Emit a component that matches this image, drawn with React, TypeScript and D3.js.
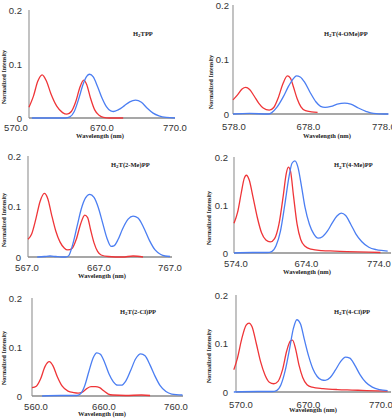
import * as d3 from 'd3';

type Pt = [number, number];

// panel names (the "2" after H is drawn as a subscript)
const TITLES = ['H2TPP', 'H2T(4-OMe)PP', 'H2T(2-Me)PP', 'H2T(4-Me)PP', 'H2T(2-Cl)PP', 'H2T(4-Cl)PP'];
const X_TICKS = [
  [570, 670, 770],
  [578, 678, 778],
  [567, 667, 767],
  [574, 674, 774],
  [560, 660, 760],
  [570, 670, 770],
];
const Y_TICKS = [0, 0.1, 0.2];
const Y_TICK_LABELS = ['0', '0.1', '0.2'];

// red = excitation, blue = emission (wavelength nm, normalized intensity)
const RED_TPP: Pt[] = [[570, 0.02], [576, 0.04], [582, 0.068], [588, 0.08], [594, 0.068], [600, 0.045], [608, 0.022], [616, 0.01], [622, 0.007], [628, 0.012], [634, 0.03], [640, 0.058], [645, 0.07], [649, 0.062], [654, 0.038], [660, 0.015], [666, 0.005], [672, 0.001], [680, 0], [699, 0]];
const BLUE_TPP: Pt[] = [[574, 0], [620, 0], [626, 0.002], [632, 0.012], [638, 0.035], [644, 0.062], [649, 0.077], [653, 0.081], [658, 0.076], [664, 0.058], [670, 0.037], [676, 0.021], [682, 0.013], [686, 0.012], [692, 0.015], [700, 0.022], [708, 0.03], [716, 0.033], [724, 0.029], [732, 0.018], [740, 0.009], [748, 0.004], [758, 0.001], [770, 0]];

const RED_4OME: Pt[] = [[578, 0.026], [584, 0.035], [590, 0.046], [595, 0.049], [600, 0.045], [606, 0.033], [612, 0.02], [618, 0.011], [626, 0.007], [632, 0.012], [638, 0.03], [644, 0.055], [650, 0.07], [654, 0.066], [658, 0.05], [663, 0.028], [668, 0.013], [674, 0.006], [682, 0.004], [690, 0.003]];
const BLUE_4OME: Pt[] = [[578, 0], [600, 0.001], [625, 0], [629, 0.002], [636, 0.012], [644, 0.03], [652, 0.052], [658, 0.065], [662, 0.07], [667, 0.068], [673, 0.058], [680, 0.04], [688, 0.022], [694, 0.014], [700, 0.012], [708, 0.014], [716, 0.018], [726, 0.02], [734, 0.018], [744, 0.011], [754, 0.005], [764, 0.001], [778, 0], [784, 0]];

const RED_2ME: Pt[] = [[567, 0.035], [572, 0.045], [578, 0.075], [584, 0.11], [590, 0.126], [595, 0.115], [600, 0.085], [606, 0.052], [612, 0.03], [618, 0.018], [623, 0.014], [629, 0.017], [635, 0.035], [641, 0.065], [647, 0.083], [651, 0.078], [655, 0.055], [660, 0.028], [665, 0.011], [670, 0.004], [680, 0.001], [700, 0], [715, 0.002], [729, 0]];
const BLUE_2ME: Pt[] = [[580, 0], [590, 0.001], [598, 0.002], [606, 0.001], [614, 0], [620, 0], [624, 0.002], [630, 0.025], [636, 0.06], [642, 0.095], [648, 0.117], [654, 0.124], [660, 0.118], [666, 0.098], [672, 0.068], [678, 0.038], [684, 0.021], [688, 0.022], [694, 0.035], [700, 0.055], [708, 0.075], [715, 0.081], [722, 0.077], [730, 0.058], [738, 0.033], [746, 0.014], [754, 0.005], [760, 0.002], [767, 0.001]];

const RED_4ME: Pt[] = [[574, 0.062], [579, 0.085], [584, 0.125], [588, 0.155], [591, 0.162], [595, 0.152], [600, 0.118], [606, 0.075], [612, 0.042], [618, 0.027], [624, 0.023], [630, 0.03], [636, 0.06], [642, 0.12], [646, 0.165], [649, 0.179], [652, 0.17], [656, 0.12], [661, 0.06], [666, 0.028], [672, 0.014], [680, 0.008], [695, 0.005], [713, 0.004], [730, 0.003], [760, 0.002], [776, 0.001]];
const BLUE_4ME: Pt[] = [[574, 0], [600, 0.001], [620, 0.001], [626, 0.003], [632, 0.015], [638, 0.045], [644, 0.1], [650, 0.16], [654, 0.187], [658, 0.192], [662, 0.18], [667, 0.14], [672, 0.095], [678, 0.06], [684, 0.04], [690, 0.031], [696, 0.034], [703, 0.046], [710, 0.064], [716, 0.077], [722, 0.083], [728, 0.078], [735, 0.06], [742, 0.04], [750, 0.024], [760, 0.012], [770, 0.007], [780, 0.005], [786, 0.004]];

const RED_2CL: Pt[] = [[560, 0.017], [566, 0.02], [572, 0.035], [578, 0.06], [584, 0.07], [589, 0.062], [595, 0.04], [602, 0.02], [610, 0.01], [618, 0.007], [624, 0.006], [630, 0.008], [636, 0.015], [642, 0.019], [648, 0.019], [654, 0.017], [660, 0.01], [666, 0.004], [672, 0.002], [690, 0.001], [712, 0.002], [724, 0.001]];
const BLUE_2CL: Pt[] = [[574, 0], [600, 0.001], [622, 0.001], [627, 0.004], [633, 0.02], [639, 0.05], [645, 0.078], [650, 0.088], [655, 0.085], [661, 0.068], [667, 0.045], [673, 0.029], [679, 0.022], [684, 0.022], [690, 0.03], [697, 0.052], [704, 0.076], [711, 0.086], [717, 0.082], [724, 0.063], [731, 0.04], [738, 0.021], [746, 0.009], [754, 0.004], [769, 0.002]];

const RED_4CL: Pt[] = [[567, 0.046], [572, 0.07], [578, 0.11], [584, 0.138], [588, 0.142], [592, 0.135], [598, 0.1], [604, 0.062], [610, 0.035], [616, 0.02], [622, 0.017], [628, 0.022], [634, 0.045], [640, 0.085], [645, 0.105], [648, 0.107], [652, 0.09], [657, 0.055], [662, 0.03], [668, 0.015], [675, 0.01], [690, 0.007], [710, 0.005], [730, 0.004], [750, 0.003], [779, 0.002]];
const BLUE_4CL: Pt[] = [[567, 0], [600, 0.001], [620, 0.001], [626, 0.003], [632, 0.015], [638, 0.045], [644, 0.09], [649, 0.13], [654, 0.149], [659, 0.14], [664, 0.11], [670, 0.075], [676, 0.048], [682, 0.032], [688, 0.025], [693, 0.024], [700, 0.03], [707, 0.045], [714, 0.062], [721, 0.072], [727, 0.07], [734, 0.055], [741, 0.036], [749, 0.02], [758, 0.01], [768, 0.005], [779, 0.003]];

const RED = [RED_TPP, RED_4OME, RED_2ME, RED_4ME, RED_2CL, RED_4CL];
const BLUE = [BLUE_TPP, BLUE_4OME, BLUE_2ME, BLUE_4ME, BLUE_2CL, BLUE_4CL];

// pixel placement of each panel (the source image is a collage, panels are not on a grid)
const LAYOUT = [
  { x0: 29, x1: 175, yb: 118, yt: 10, axEnd: 175, tickY: 130.5, firstDx: -13, yLabX: 22, xt: [100, 137.5], yt2: [6, 77], tt: [133, 35.5] },
  { x0: 233, x1: 384, yb: 114, yt: 5, axEnd: 388, tickY: 129.5, firstDx: 1, yLabX: 229, xt: [327, 138], yt2: [213, 82], tt: [324, 35.5] },
  { x0: 28, x1: 170, yb: 257, yt: 156, axEnd: 172, tickY: 270.5, firstDx: -1, yLabX: 21, xt: [102, 277.5], yt2: [6, 220], tt: [111, 166.5] },
  { x0: 234, x1: 379, yb: 253, yt: 157, axEnd: 391, tickY: 266.5, firstDx: 2, yLabX: 228, xt: [307, 273.5], yt2: [211, 218], tt: [334, 167] },
  { x0: 32, x1: 176, yb: 396, yt: 298, axEnd: 183, tickY: 409.5, firstDx: 4, yLabX: 22, xt: [102, 415.5], yt2: [6, 358], tt: [120, 313.5] },
  { x0: 236, x1: 381, yb: 392, yt: 295, axEnd: 391, tickY: 408, firstDx: 5, yLabX: 228, xt: [313, 411.5], yt2: [211, 356], tt: [334, 313.5] },
];

const RED_C = '#ef3538';
const BLUE_C = '#4b7ef2';
const AXIS_C = '#9a9a9a';
const TICK_FONT = '"Liberation Sans", Arial, sans-serif';
const SERIF = '"Liberation Serif", "Times New Roman", serif';

function Panel({ i }: { i: number }) {
  const L = LAYOUT[i];
  const ticks = X_TICKS[i];
  const x = d3.scaleLinear().domain([ticks[0], ticks[2]]).range([L.x0, L.x1]);
  const y = d3.scaleLinear().domain([0, 0.2]).range([L.yb, L.yt]);
  const line = d3.line<Pt>()
    .x(d => x(d[0]))
    .y(d => y(d[1]))
    .curve(d3.curveMonotoneX);
  const name = TITLES[i];

  return (
    <g>
      {/* axes */}
      <line x1={L.x0} x2={L.x0} y1={y(0.2)} y2={y(0)} stroke={AXIS_C} strokeWidth={1.2} />
      <line x1={L.x0} x2={L.axEnd} y1={y(0)} y2={y(0)} stroke="#8a8a8a" strokeWidth={1.4} />

      {Y_TICKS.map((t, k) => (
        <text key={t} x={L.yLabX} y={y(t) + 3.5} textAnchor="end" fontSize={9.5}
          fontFamily={TICK_FONT} fill="#333">{Y_TICK_LABELS[k]}</text>
      ))}
      {ticks.map((t, k) => (
        <text key={t} x={x(t) + (k === 0 ? L.firstDx : 0)} y={L.tickY} textAnchor="middle"
          fontSize={9.5} fontFamily={TICK_FONT} fill="#333">{d3.format('.1f')(t)}</text>
      ))}

      <text x={L.xt[0]} y={L.xt[1]} textAnchor="middle" fontSize={6.5} fontWeight="bold"
        fontFamily={SERIF} fill="#222">Wavelength (nm)</text>
      <text transform={`translate(${L.yt2[0]},${L.yt2[1]}) rotate(-90)`} textAnchor="middle"
        fontSize={6} fontWeight="bold" fontFamily={SERIF} fill="#222">Normalized Intensity</text>

      <text x={L.tt[0]} y={L.tt[1]} fontSize={6.5} fontWeight="bold" fontFamily={SERIF} fill="#222">
        H<tspan fontSize={5} dy={1.5}>2</tspan><tspan dy={-1.5}>{name.slice(2)}</tspan>
      </text>

      <path d={line(RED[i]) || ''} fill="none" stroke={RED_C} strokeWidth={1.3} />
      <path d={line(BLUE[i]) || ''} fill="none" stroke={BLUE_C} strokeWidth={1.3} />
    </g>
  );
}

export default function App() {
  return (
    <svg width={392} height={418} style={{ position: 'absolute', left: 0, top: 0, background: '#fff' }}>
      {TITLES.map((_, i) => <Panel key={i} i={i} />)}
    </svg>
  );
}
